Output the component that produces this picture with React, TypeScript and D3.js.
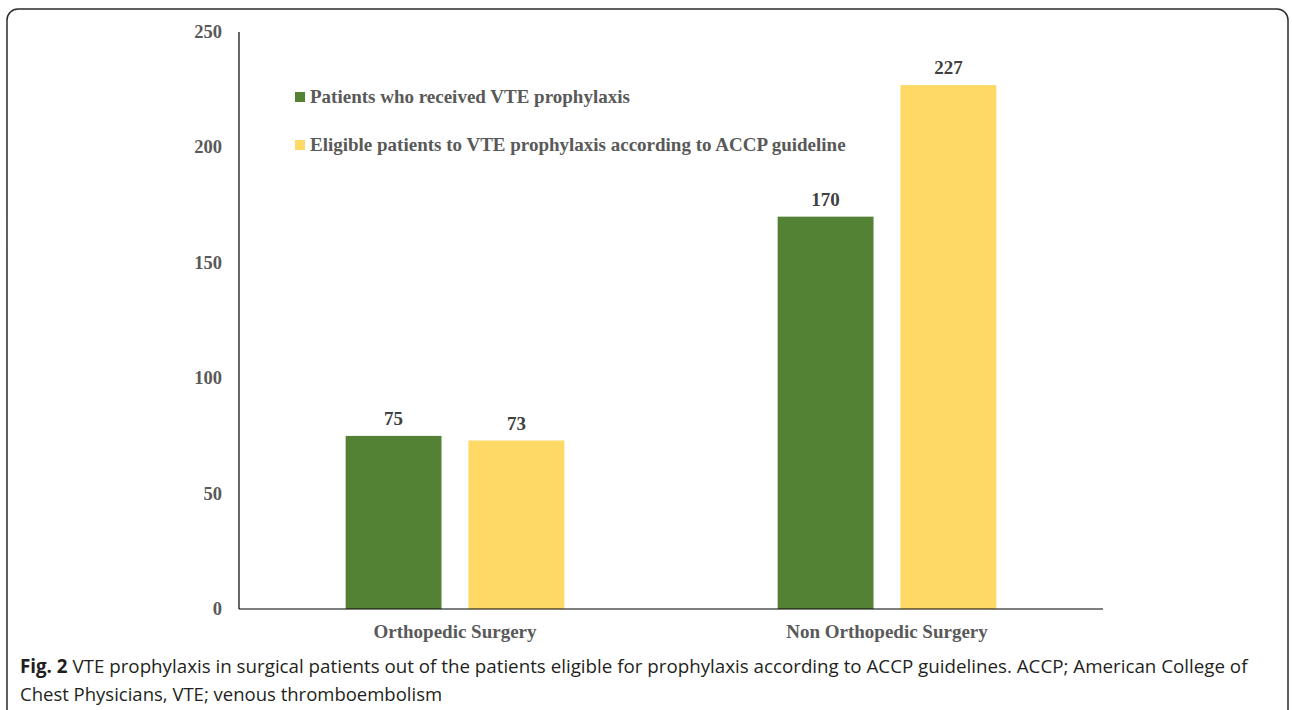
import React from 'react';
import * as d3 from 'd3';

const categories = ['Orthopedic Surgery', 'Non Orthopedic Surgery'];
const seriesNames = [
  'Patients who received VTE prophylaxis',
  'Eligible patients to VTE prophylaxis according to ACCP guideline',
];
const received = [75, 170];
const eligible = [73, 227];
const yTicks = [0, 50, 100, 150, 200, 250];
const seriesColors = ['#548235', '#FFD966'];

const captionBold = 'Fig. 2';
const captionLine1 =
  ' VTE prophylaxis in surgical patients out of the patients eligible for prophylaxis according to ACCP guidelines. ACCP; American College of';
const captionLine2 = 'Chest Physicians, VTE; venous thromboembolism';

const W = 1292;
const H = 710;
const plot = { left: 239, right: 1103, top: 32, bottom: 609 };
const serif = '"Liberation Serif", "Times New Roman", serif';
const sans = '"Open Sans", "Noto Sans", sans-serif';

export default function App() {
  const values = [received, eligible];

  const x0 = d3.scaleBand<string>()
    .domain(categories)
    .range([plot.left, plot.right])
    .padding(0);

  const x1 = d3.scaleBand<number>()
    .domain([0, 1])
    .range([0, x0.bandwidth()])
    .paddingInner(0.2195)
    .paddingOuter(0.868);

  const y = d3.scaleLinear().domain([0, 250]).range([plot.bottom, plot.top]);

  return (
    <svg
      width={W}
      height={H}
      style={{ position: 'absolute', left: 0, top: 0, background: '#fff' }}
    >
      <rect x={7} y={9} width={1281} height={740} rx={11} ry={11}
        fill="#fff" stroke="#2b2b2b" strokeWidth={1.5} />

      {/* y axis */}
      <line x1={plot.left} x2={plot.left} y1={plot.top} y2={plot.bottom} stroke="#000" strokeWidth={1.2} />
      {yTicks.map(t => (
        <text key={t} x={222} y={y(t) + 6} textAnchor="end"
          fontFamily={serif} fontWeight="bold" fontSize={18.5} fill="#595959">
          {t}
        </text>
      ))}

      {/* bars */}
      {categories.map((c, ci) => (
        <g key={c} transform={`translate(${x0(c)},0)`}>
          {values.map((vals, si) => (
            <g key={si}>
              <rect x={x1(si)} y={y(vals[ci])} width={x1.bandwidth()}
                height={y(0) - y(vals[ci])} fill={seriesColors[si]} />
              <text x={(x1(si) as number) + x1.bandwidth() / 2} y={y(vals[ci]) - 11}
                textAnchor="middle" fontFamily={serif} fontWeight="bold" fontSize={19} fill="#404040">
                {vals[ci]}
              </text>
            </g>
          ))}
          <text x={x0.bandwidth() / 2} y={638} textAnchor="middle"
            fontFamily={serif} fontWeight="bold" fontSize={19} fill="#595959">
            {c}
          </text>
        </g>
      ))}

      {/* x axis */}
      <line x1={plot.left} x2={plot.right} y1={plot.bottom} y2={plot.bottom} stroke="#000" strokeWidth={1.2} />

      {/* legend */}
      {seriesNames.map((s, i) => (
        <g key={s} transform={`translate(295,${92 + i * 48})`}>
          <rect x={0} y={0} width={10} height={10} fill={seriesColors[i]} />
          <text x={15} y={11} fontFamily={serif} fontWeight="bold" fontSize={19} fill="#595959">
            {s}
          </text>
        </g>
      ))}

      {/* caption */}
      <text x={20} y={673} fontFamily={sans} fontSize={18.75} fill="#231f20">
        <tspan fontWeight="bold">{captionBold}</tspan>
        <tspan>{captionLine1}</tspan>
      </text>
      <text x={20} y={701} fontFamily={sans} fontSize={18.5} fill="#231f20">
        {captionLine2}
      </text>
    </svg>
  );
}
